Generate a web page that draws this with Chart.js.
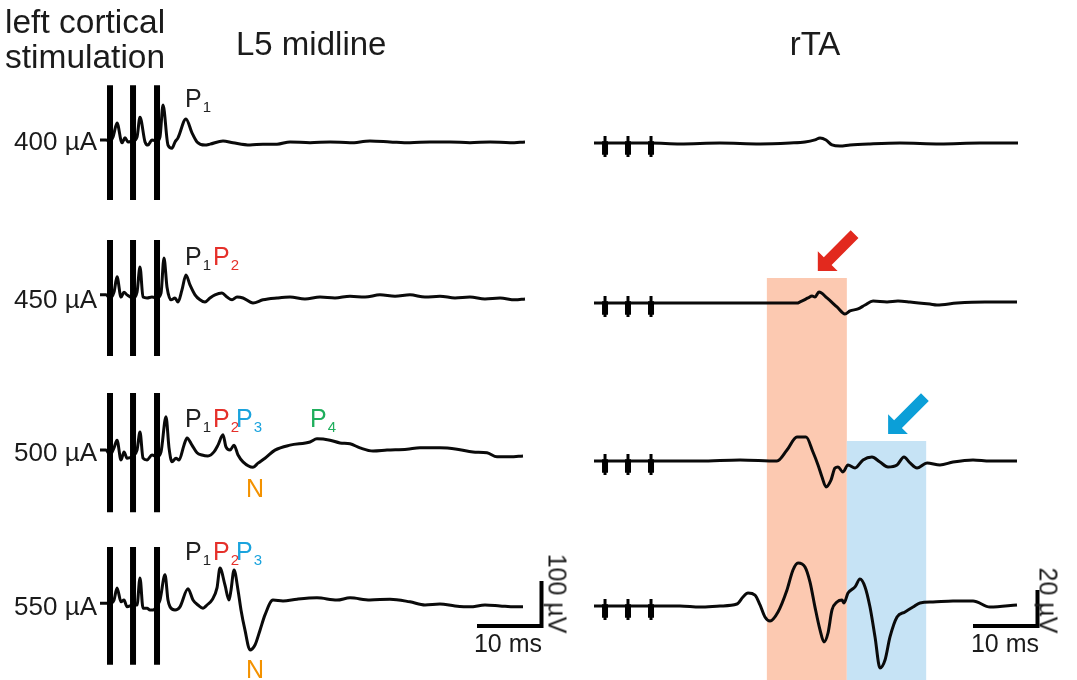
<!DOCTYPE html>
<html><head><meta charset="utf-8">
<script src="https://cdn.jsdelivr.net/npm/chart.js@4.4.1/dist/chart.umd.min.js"></script>
<style>
html,body{margin:0;padding:0;background:#fff;}
#wrap{position:relative;width:1077px;height:680px;overflow:hidden;font-family:"Liberation Sans",Arial,Helvetica,sans-serif;}
#c{position:absolute;left:0;top:0;width:1077px;height:680px;}
.lb{position:absolute;white-space:nowrap;color:#1b1b1b;}
.lb .s{font-size:15px;position:relative;top:5px;margin-left:1px;}
</style></head><body><div id="wrap"><canvas id="c" width="1077" height="680"></canvas></div>
<script>
// ---------------- DATA ----------------
const currents = ['400 µA', '450 µA', '500 µA', '550 µA'];
const panelTitles = ['L5 midline', 'rTA'];

// L5 midline recordings: time (ms) and amplitude (µV)
const L400_t = [0,0.93,1.55,2.02,2.64,3.41,3.88,4.34,5.12,5.74,6.2,6.98,7.44,8.06,8.84,9.3,9.77,10.54,11.16,11.63,12.09,13.33,14.26,15.04,16.28,17.05,19.07,20.62,23.26,25.27,27.44,29.46,32.56,35.66,38.76,41.86,44.96,48.06,51.16,54.26,57.36,60.47,63.57,65.89];
const L400_v = [2,2,0,9,40,-4,7,-2,0,9,53,-2,-9,2,0,9,80,-9,-16,-2,7,49,18,-2,-9,-7,0,-4,-9,-7,-7,-2,-4,-2,-4,0,-2,-4,-2,-2,-4,-2,-4,-2];
const L450_t = [0,0.93,1.55,2.17,2.64,3.26,3.72,4.19,5.12,5.74,6.2,6.67,7.29,8.06,8.84,9.46,9.92,10.39,11.01,11.63,12.09,12.71,13.33,13.95,14.73,15.5,16.28,17.05,17.83,18.91,19.69,20.47,21.24,22.17,23.72,25.27,27.44,29.46,31.78,34.11,36.43,38.76,41.09,43.41,45.74,48.06,50.39,52.71,55.04,57.36,59.69,62.02,64.34,65.89];
const L450_v = [7,7,0,13,47,2,13,7,0,13,69,2,0,2,0,11,89,24,-4,0,-9,18,51,29,7,-4,-9,0,7,11,2,-4,2,0,-11,-4,0,2,-2,2,0,4,2,7,4,7,2,4,0,2,-2,0,-4,-2];
const L500_t = [0,0.93,1.55,2.17,2.64,3.26,3.72,4.19,5.12,5.74,6.2,6.67,7.29,8.06,8.84,9.46,10.23,10.7,11.16,11.78,12.25,13.02,13.49,14.26,15.04,15.81,16.74,17.67,18.29,19.07,19.53,20.16,20.78,21.4,22.17,23.72,24.5,25.58,27.13,29.46,32.56,33.64,35.66,37.21,38.76,40.31,42.33,44.5,47.6,49.61,52.71,55.35,57.83,60,61.55,63.57,65.58];
const L500_v = [22,22,11,27,44,0,18,4,9,22,62,4,0,11,7,18,96,27,-4,4,0,33,49,33,16,11,9,18,33,56,29,22,33,11,-4,-16,-7,4,22,33,40,47,44,38,36,27,20,22,24,27,27,24,18,16,7,7,9];
const L550_t = [0,0.78,1.55,2.17,2.64,3.26,3.72,4.19,5.12,5.74,6.2,6.67,7.29,7.75,8.22,8.84,9.3,10.08,10.54,10.85,11.63,12.4,13.64,14.42,15.19,15.97,16.59,17.36,18.14,18.6,19.38,20,20.31,20.78,21.4,21.86,22.48,23.26,24.03,24.81,25.58,26.82,28.37,30.54,33.64,36.74,38.76,41.86,44.96,48.06,50.39,52.71,55.04,57.36,59.69,62.02,64.34,65.58];
const L550_v = [4,4,4,11,38,7,11,-4,0,0,60,-7,-7,-11,-11,-2,11,67,11,-4,-11,-4,36,11,0,-7,0,11,38,82,44,11,33,78,33,-11,-56,-100,-89,-56,-22,11,9,13,16,11,16,11,13,7,0,2,-2,-4,0,-2,-4,-4];

// rTA recordings: time (ms) and amplitude (µV)
const R400_t = [0,1.71,5.27,8.84,13.33,19.53,25.74,30.39,32.71,34.26,35.04,35.97,36.9,38.14,39.69,42.79,47.44,53.64,59.84,65.74];
const R400_v = [0,0,0,0,-0.5,0,-0.5,0,0.5,1.7,2.8,1.7,-1.1,-1.7,-1.1,-0.5,0,-0.5,0,0];
const R450_t = [0,1.71,5.27,8.84,16.43,24.19,31.47,31.94,33.18,33.8,34.26,34.88,36.12,37.67,38.91,39.69,40.93,42.02,43.26,45.43,47.13,48.99,52.09,53.18,56.28,60.62,65.58];
const R450_v = [0,0,0,0,0,0,0,0.6,2.8,3.9,3.3,6.1,2.8,-2.2,-6.1,-4.4,-3.3,-1.1,1.1,0.6,1.1,0.6,-0.6,-1.1,0,0.6,0.6];
const R500_t = [0,1.71,5.27,8.84,16.43,22.64,28.37,29.92,31.47,32.87,33.95,34.73,35.35,35.97,36.74,37.36,37.83,38.6,39.38,40.47,41.71,43.1,44.34,45.58,46.98,48.06,49.0,50.08,51.63,53.64,55.66,58.76,61.4,65.58];
const R500_v = [0,0,0,0,0,0.6,0,6.1,13.3,13.3,5,-2.2,-8.9,-14.4,-10.6,-3.9,-3.3,-6.1,-2.2,-3.9,0.6,2.2,-0.6,-3.3,-2.2,2.2,-1.1,-3.9,-1.1,-2.2,-0.6,0.6,0,0];
const R550_t = [0,1.71,5.27,8.84,13.33,16.43,19.53,22.17,23.1,23.88,24.96,25.74,26.51,27.29,28.53,29.92,30.85,31.63,32.71,33.49,34.26,35.04,35.66,36.28,36.9,37.67,38.45,38.76,39.38,40.47,41.24,42.02,42.79,43.57,44.34,45.12,45.89,46.98,48.22,49.46,50.54,52.56,55.66,58.76,61.4,65.58];
const R550_v = [0,0,0,0,0,-0.6,0,1.1,5,7.2,6.1,0.6,-6.1,-8.3,-3.3,8.9,20,23.9,21.7,13.3,-0.6,-13.3,-20,-15,-2.2,2.2,3.3,1.7,7.2,10.6,15,10.6,-0.6,-17.2,-34.4,-30,-17.2,-6.1,-3.3,-0.6,1.7,2.2,2.8,2.8,-0.6,0.6];

// stimulus artefacts (ms) and their clipped extents (µV)
const leftStim = [1.55, 5.12, 8.84];
const rightStim = [1.71, 5.27, 8.84];
const leftArtTop = [124, 129, 149, 129];
const leftArtBot = [-131, -129, -116, -133];
const rightArtTop = [3.9, 3.9, 3.9, 3.9];
const rightArtBot = [-7.8, -7.8, -7.8, -7.8];

// highlighted response windows in rTA (ms)
const windowEdges = [26.8, 39.2, 51.5];

// scale bars
const scaleBarMs = 10;
const scaleBarUvLeft = 100;
const scaleBarUvRight = 20;

// ---------------- LAYOUT ----------------
const W = 1077, H = 680, PX_MS = 6.45;
const L_X0 = 100, R_X0 = 594, L_PX_UV = 0.45, R_PX_UV = 1.8;
const L_BASE = [141, 298, 460, 605], R_BASE = [143, 303, 461, 606];
const offL = L_BASE.map(b => (H - b) / L_PX_UV);
const offR = R_BASE.map(b => (H - b) / R_PX_UV);
const SB_Y = 626, SB_LX = 477, SB_RX = 973;
const WIN_TOP = [278, 441];

const leftT = [[L400_t, L400_v], [L450_t, L450_v], [L500_t, L500_v], [L550_t, L550_v]];
const rightT = [[R400_t, R400_v], [R450_t, R450_v], [R500_t, R500_v], [R550_t, R550_v]];

function traceDS(t, v, off, xid, yid) {
  return { label: 'trace', data: t.map((x, i) => ({ x: x, y: v[i] + off })), xAxisID: xid, yAxisID: yid,
    borderColor: '#0a0a0a', borderWidth: 3, pointRadius: 0, cubicInterpolationMode: 'monotone', fill: false, order: 2 };
}
function artDS(times, tops, bots, offs, xid, yid, width) {
  const d = [];
  offs.forEach((o, i) => times.forEach(s => { d.push({ x: s, y: tops[i] + o }, { x: s, y: bots[i] + o }, { x: s, y: null }); }));
  return { label: 'artefact', data: d, xAxisID: xid, yAxisID: yid, borderColor: '#000', borderWidth: width,
    borderCapStyle: 'butt', pointRadius: 0, spanGaps: false, fill: false, order: 1 };
}
function sbDS(x0, y0, ms, uv, xid, yid) {
  return { label: 'scale', data: [{ x: x0, y: y0 }, { x: x0 + ms, y: y0 }, { x: x0 + ms, y: y0 + uv }], xAxisID: xid, yAxisID: yid,
    borderColor: '#000', borderWidth: 4, borderJoinStyle: 'miter', borderCapStyle: 'butt', pointRadius: 0, tension: 0, fill: false, order: 1 };
}

const datasets = [];
leftT.forEach((tv, i) => datasets.push(traceDS(tv[0], tv[1], offL[i], 'xL', 'yL')));
rightT.forEach((tv, i) => datasets.push(traceDS(tv[0], tv[1], offR[i], 'xR', 'yR')));
datasets.push(artDS(leftStim, leftArtTop, leftArtBot, offL, 'xL', 'yL', 6));
datasets.push(artDS(rightStim, rightArtTop, rightArtBot, offR, 'xR', 'yR', 3));
datasets.push(artDS(rightStim, rightArtTop.map(v => 1), rightArtBot.map(v => -6.5), offR, 'xR', 'yR', 6));
datasets.push(sbDS((SB_LX - L_X0) / PX_MS, (H - SB_Y) / L_PX_UV, scaleBarMs, scaleBarUvLeft, 'xL', 'yL'));
datasets.push(sbDS((SB_RX - R_X0) / PX_MS, (H - SB_Y) / R_PX_UV, scaleBarMs, scaleBarUvRight, 'xR', 'yR'));

const windows = [
  { from: windowEdges[0], to: windowEdges[1], top: (H - WIN_TOP[0]) / R_PX_UV, color: '#fcc9b1', arrow: '#e2291e' },
  { from: windowEdges[1], to: windowEdges[2], top: (H - WIN_TOP[1]) / R_PX_UV, color: '#c6e3f5', arrow: '#0b9fd8' }
];
const arrowTips = [{ t: 34.7, gap: 7 }, { t: 45.6, gap: 7 }];

const annot = {
  id: 'annot',
  beforeDatasetsDraw(chart) {
    const ctx = chart.ctx, xR = chart.scales.xR, yR = chart.scales.yR;
    ctx.save();
    windows.forEach(w => {
      const x1 = xR.getPixelForValue(w.from), x2 = xR.getPixelForValue(w.to);
      const y1 = yR.getPixelForValue(w.top), y2 = yR.getPixelForValue(0);
      ctx.fillStyle = w.color;
      ctx.fillRect(x1, y1, x2 - x1, y2 - y1);
    });
    ctx.restore();
  },
  afterDatasetsDraw(chart) {
    const ctx = chart.ctx, xR = chart.scales.xR, yR = chart.scales.yR;
    ctx.save();
    windows.forEach((w, i) => {
      const tx = xR.getPixelForValue(arrowTips[i].t);
      const ty = yR.getPixelForValue(w.top) - arrowTips[i].gap;
      const u = [Math.SQRT1_2, -Math.SQRT1_2], n = [Math.SQRT1_2, Math.SQRT1_2];
      const L = 52, hl = 14, hw = 14, sw = 5.5;
      const bx = tx + u[0] * hl, by = ty + u[1] * hl;
      const ex = tx + u[0] * L, ey = ty + u[1] * L;
      ctx.beginPath();
      ctx.moveTo(tx, ty);
      ctx.lineTo(bx + n[0] * hw, by + n[1] * hw);
      ctx.lineTo(bx + n[0] * sw, by + n[1] * sw);
      ctx.lineTo(ex + n[0] * sw, ey + n[1] * sw);
      ctx.lineTo(ex - n[0] * sw, ey - n[1] * sw);
      ctx.lineTo(bx - n[0] * sw, by - n[1] * sw);
      ctx.lineTo(bx - n[0] * hw, by - n[1] * hw);
      ctx.closePath();
      ctx.fillStyle = w.arrow;
      ctx.fill();
    });
    ctx.restore();
  }
};

new Chart(document.getElementById('c'), {
  type: 'line',
  data: { datasets: datasets },
  options: {
    responsive: false, animation: false, devicePixelRatio: 1,
    layout: { padding: 0 },
    plugins: { legend: { display: false }, tooltip: { enabled: false }, title: { display: false } },
    scales: {
      xL: { type: 'linear', display: false, min: -L_X0 / PX_MS, max: (W - L_X0) / PX_MS },
      xR: { type: 'linear', display: false, min: -R_X0 / PX_MS, max: (W - R_X0) / PX_MS },
      yL: { type: 'linear', display: false, min: 0, max: H / L_PX_UV },
      yR: { type: 'linear', display: false, min: 0, max: H / R_PX_UV }
    }
  },
  plugins: [annot]
});

// ---------------- TEXT ----------------
const wrap = document.getElementById('wrap');
function label(html, x, base, size, color, align) {
  const d = document.createElement('div');
  d.className = 'lb';
  d.style.fontSize = size + 'px';
  d.style.lineHeight = size + 'px';
  d.style.top = (base - 0.8465 * size) + 'px';
  if (align === 'right') { d.style.right = (W - x) + 'px'; }
  else if (align === 'center') { d.style.left = (x - 200) + 'px'; d.style.width = '400px'; d.style.textAlign = 'center'; }
  else { d.style.left = x + 'px'; }
  if (color) d.style.color = color;
  d.innerHTML = html;
  wrap.appendChild(d);
  return d;
}
function vlabel(text, cx, cy, size) {
  const d = document.createElement('div');
  d.className = 'lb';
  d.style.fontSize = size + 'px';
  d.style.lineHeight = size + 'px';
  d.style.width = '120px';
  d.style.textAlign = 'center';
  d.style.left = (cx - 60) + 'px';
  d.style.top = (cy - size / 2) + 'px';
  d.style.transform = 'rotate(90deg)';
  d.style.transformOrigin = '50% 50%';
  d.textContent = text;
  wrap.appendChild(d);
}
label('left cortical', 5, 33, 33.5);
label('stimulation', 5, 68, 33.5);
label(panelTitles[0], 236, 55, 33);
label(panelTitles[1], 815, 55, 33, null, 'center');
const labBase = [150, 308, 461, 615];
currents.forEach((c, i) => label(c, 97, labBase[i], 26, null, 'right'));

const BLK = '#222', RED = '#e5302a', BLU = '#1aa3dd', GRN = '#1fae5c', ORG = '#f39200';
function P(n) { return 'P<span class="s">' + n + '</span>'; }
label(P(1), 185, 107, 25, BLK);
label(P(1), 185, 265, 25, BLK);
label(P(2), 213, 265, 25, RED);
label(P(1), 185, 427, 25, BLK);
label(P(2), 213, 427, 25, RED);
label(P(3), 236, 427, 25, BLU);
label(P(4), 310, 427, 25, GRN);
label('N', 246, 497, 25, ORG);
label(P(1), 185, 560, 25, BLK);
label(P(2), 213, 560, 25, RED);
label(P(3), 236, 560, 25, BLU);
label('N', 246, 678, 25, ORG);

label('10 ms', 508, 652, 25, null, 'center');
label('10 ms', 1005, 652, 25, null, 'center');
vlabel('100 µV', 557, 593, 25);
vlabel('20 µV', 1048, 600, 25);
</script></body></html>
